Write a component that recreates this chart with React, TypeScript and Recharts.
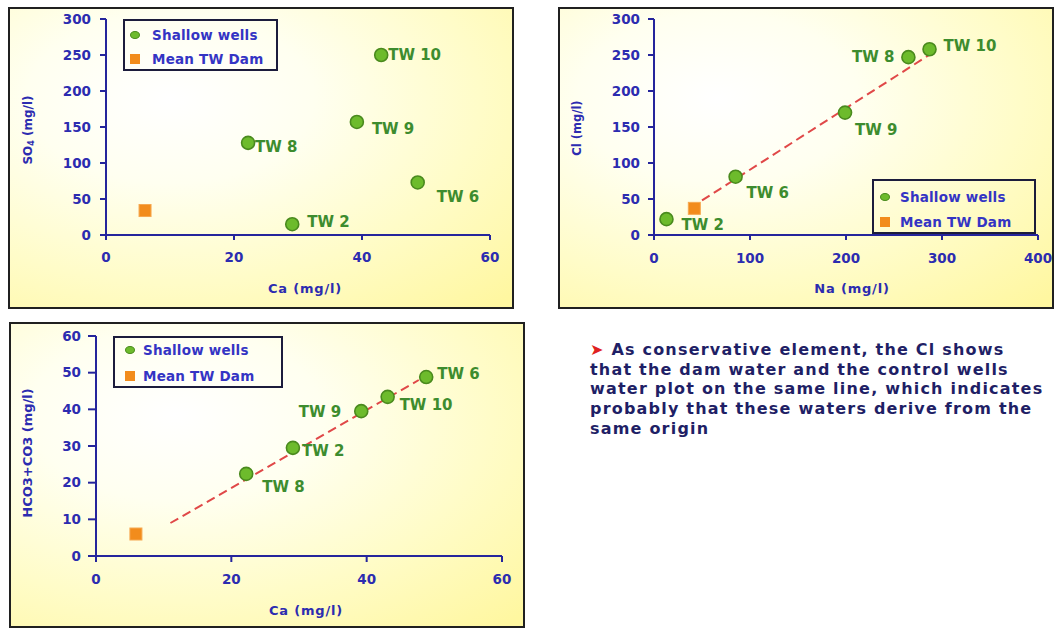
import React from 'react';
import { ScatterChart, Scatter, XAxis, YAxis, ReferenceLine, Legend, Label } from 'recharts';

// ---------- data ----------
const WELL_NAMES = ['TW 2', 'TW 8', 'TW 9', 'TW 10', 'TW 6'];
const SERIES_WELLS = 'Shallow wells';
const SERIES_DAM = 'Mean TW Dam';
const LEGEND_ORDER = [SERIES_WELLS, SERIES_DAM];

// Chart 1: Ca vs SO4
const CA_1 = [29.1, 22.2, 39.2, 43, 48.7];
const SO4_1 = [15, 128, 157, 250, 73];
const DAM_CA_1 = [6.1];
const DAM_SO4_1 = [34];
const TICKS_CA = [0, 20, 40, 60];
const TICKS_SO4 = [0, 50, 100, 150, 200, 250, 300];

// Chart 2: Na vs Cl
const NA_2 = [13, 265, 199, 287, 85];
const CL_2 = [22, 247, 170, 258, 81];
const DAM_NA_2 = [42];
const DAM_CL_2 = [37];
const TREND_NA_2 = [50, 290];
const TREND_CL_2 = [48, 253];
const TICKS_NA = [0, 100, 200, 300, 400];
const TICKS_CL = [0, 50, 100, 150, 200, 250, 300];

// Chart 3: Ca vs HCO3+CO3
const CA_3 = [29.1, 22.2, 39.2, 43.1, 48.8];
const HCO3_3 = [29.5, 22.4, 39.5, 43.4, 48.8];
const DAM_CA_3 = [5.9];
const DAM_HCO3_3 = [6];
const TREND_CA_3 = [11, 47.7];
const TREND_HCO3_3 = [9, 48];
const TICKS_HCO3 = [0, 10, 20, 30, 40, 50, 60];

const NOTE_LINES = [
  'As conservative element, the Cl shows',
  'that the dam water and the control wells',
  'water plot on the same line, which indicates',
  'probably that these waters derive from the',
  'same origin',
];

// label placement (dx, dy, anchor) per well, same order as WELL_NAMES
type Place = [number, number, 'start' | 'end'];
const PLACE_1: Place[] = [[15, -2, 'start'], [7, 4, 'start'], [15, 7, 'start'], [7, 0, 'start'], [19, 15, 'start']];
const PLACE_2: Place[] = [[15, 6, 'start'], [-14, 0, 'end'], [10, 17, 'start'], [14, -3, 'start'], [11, 16, 'start']];
const PLACE_3: Place[] = [[9, 3, 'start'], [16, 13, 'start'], [-20, 1, 'end'], [12, 8, 'start'], [11, -3, 'start']];

// ---------- styles ----------
const FONT = 'DejaVu Sans';
const AXIS_BLUE = '#25259c';
const TICK_BLUE = '#2c2cb0';
const LEGEND_BLUE = '#3434c4';
const LABEL_GREEN = '#3d8c2e';
const WELL_FILL = '#6dbb2c';
const WELL_STROKE = '#4a8a1e';
const DAM_FILL = '#f28c1c';
const TREND_RED = '#e04848';
const BG = 'radial-gradient(ellipse 95% 95% at 32% 30%, #ffffff 0%, #fffff0 30%, #fffcc8 65%, #fff7a0 100%)';

const build = (xs: number[], ys: number[], names?: string[]) =>
  xs.map((x, i) => ({ x, y: ys[i], name: names ? names[i] : '' }));

const wellShape = (place: Place[]) => (props: any) => {
  const { cx, cy, payload } = props;
  if (cx == null || cy == null) return <g />;
  const idx = WELL_NAMES.indexOf(payload?.name);
  const p = place[idx] || [10, 0, 'start'];
  return (
    <g>
      <circle cx={cx} cy={cy} r={6.5} fill={WELL_FILL} stroke={WELL_STROKE} strokeWidth={1.6} />
      <text
        x={cx + p[0]}
        y={cy + p[1]}
        textAnchor={p[2]}
        dominantBaseline="central"
        fontFamily={FONT}
        fontWeight="bold"
        fontSize={15}
        fill={LABEL_GREEN}
      >
        {payload?.name}
      </text>
    </g>
  );
};

const damShape = (props: any) => {
  const { cx, cy } = props;
  if (cx == null || cy == null) return <g />;
  return <rect x={cx - 6} y={cy - 6} width={12} height={12} fill={DAM_FILL} stroke="#f6a850" strokeWidth={1} />;
};

type LegendGeo = { x: number; y: number; w: number; h: number; ix: number; tx: number; r1: number; r2: number };

const makeLegend = (g: LegendGeo) => () => {
  return (
    <div
      style={{
        width: g.w,
        height: g.h,
        border: '2px solid #1c1c3c',
        boxSizing: 'border-box',
        position: 'relative',
        fontFamily: FONT,
        fontWeight: 'bold',
        fontSize: 13.5,
        color: LEGEND_BLUE,
      }}
    >
      {LEGEND_ORDER.map((name, i) => {
        const cy = i === 0 ? g.r1 : g.r2;
        const isDam = name === SERIES_DAM;
        return (
          <div key={name} style={{ position: 'absolute', left: 0, top: cy - 10, height: 20, width: '100%' }}>
            {isDam ? (
              <div style={{ position: 'absolute', left: g.ix - 5, top: 5, width: 10, height: 10, background: DAM_FILL }} />
            ) : (
              <div
                style={{
                  position: 'absolute',
                  left: g.ix - 5,
                  top: 6,
                  width: 10,
                  height: 8,
                  borderRadius: '50%',
                  background: WELL_FILL,
                  border: `1.5px solid ${WELL_STROKE}`,
                  boxSizing: 'border-box',
                }}
              />
            )}
            <div style={{ position: 'absolute', left: g.tx, top: 0, lineHeight: '20px', whiteSpace: 'nowrap', letterSpacing: 0.2 }}>
              {name}
            </div>
          </div>
        );
      })}
    </div>
  );
};

const yTitle = (dxFromLeft: number, dyCenter: number, size: number, children: React.ReactNode) => (props: any) => {
  const vb = props.viewBox || { x: 0, y: 0, width: 0, height: 0 };
  const cx = vb.x + dxFromLeft;
  const cy = vb.y + vb.height / 2 + dyCenter;
  return (
    <text
      x={cx}
      y={cy}
      transform={`rotate(-90 ${cx} ${cy})`}
      textAnchor="middle"
      dominantBaseline="central"
      fontFamily={FONT}
      fontWeight="bold"
      fontSize={size}
      fill={TICK_BLUE}
    >
      {children}
    </text>
  );
};

const xTitle = (dxCenter: number, dyFromTop: number, text: string) => (props: any) => {
  const vb = props.viewBox || { x: 0, y: 0, width: 0, height: 0 };
  return (
    <text
      x={vb.x + vb.width / 2 + dxCenter}
      y={vb.y + dyFromTop}
      textAnchor="middle"
      dominantBaseline="central"
      fontFamily={FONT}
      fontWeight="bold"
      fontSize={13}
      letterSpacing={0.8}
      fill={TICK_BLUE}
    >
      {text}
    </text>
  );
};

const tickStyle = { fill: TICK_BLUE, fontFamily: FONT, fontWeight: 'bold', fontSize: 13.5 } as any;

type PanelProps = {
  left: number;
  top: number;
  width: number;
  height: number;
  margin: { top: number; right: number; left: number; bottom: number };
  yWidth: number;
  xHeight: number;
  xDomain: [number, number];
  yDomain: [number, number];
  xTicks: number[];
  yTicks: number[];
  yTickSize: number;
  yTickMargin: number;
  xTickSize: number;
  xTickMargin: number;
  wells: { x: number; y: number; name: string }[];
  dam: { x: number; y: number; name: string }[];
  trend?: { x: number; y: number }[];
  place: Place[];
  legend: LegendGeo;
  yTitleNode: (p: any) => React.ReactNode;
  xTitleNode: (p: any) => React.ReactNode;
};

const Panel = (p: PanelProps) => (
  <div style={{ position: 'absolute', left: p.left, top: p.top, width: p.width, height: p.height }}>
    <div
      style={{
        position: 'absolute',
        left: 0,
        top: 0,
        width: p.width,
        height: p.height,
        border: '2px solid #202020',
        boxSizing: 'border-box',
        background: BG,
      }}
    />
    <div style={{ position: 'absolute', left: 0, top: 0 }}>
      <ScatterChart width={p.width} height={p.height} margin={p.margin}>
        <XAxis
          type="number"
          dataKey="x"
          domain={p.xDomain}
          ticks={p.xTicks}
          allowDataOverflow
          height={p.xHeight}
          stroke={AXIS_BLUE}
          strokeWidth={2}
          tickSize={p.xTickSize}
          tickMargin={p.xTickMargin}
          tick={tickStyle}
          tickLine={{ stroke: AXIS_BLUE, strokeWidth: 2 }}
          axisLine={{ stroke: AXIS_BLUE, strokeWidth: 2 }}
        >
          <Label content={p.xTitleNode as any} />
        </XAxis>
        <YAxis
          type="number"
          dataKey="y"
          domain={p.yDomain}
          ticks={p.yTicks}
          allowDataOverflow
          width={p.yWidth}
          stroke={AXIS_BLUE}
          strokeWidth={2}
          tickSize={p.yTickSize}
          tickMargin={p.yTickMargin}
          tick={tickStyle}
          tickLine={{ stroke: AXIS_BLUE, strokeWidth: 2 }}
          axisLine={{ stroke: AXIS_BLUE, strokeWidth: 2 }}
        >
          <Label content={p.yTitleNode as any} />
        </YAxis>
        {p.trend ? (
          <ReferenceLine
            segment={p.trend as any}
            stroke={TREND_RED}
            strokeWidth={2}
            strokeDasharray="9 5"
            ifOverflow="visible"
          />
        ) : null}
        <Scatter name={SERIES_WELLS} data={p.wells} fill={WELL_FILL} shape={wellShape(p.place)} isAnimationActive={false} />
        <Scatter name={SERIES_DAM} data={p.dam} fill={DAM_FILL} shape={damShape} legendType="square" isAnimationActive={false} />
        <Legend
          layout="vertical"
          align="center"
          verticalAlign="middle"
          content={makeLegend(p.legend) as any}
          wrapperStyle={{ left: p.legend.x, top: p.legend.y, width: p.legend.w, height: p.legend.h }}
        />
      </ScatterChart>
    </div>
  </div>
);

export default function App() {
  const wells1 = build(CA_1, SO4_1, WELL_NAMES);
  const dam1 = build(DAM_CA_1, DAM_SO4_1, [SERIES_DAM]);
  const wells2 = build(NA_2, CL_2, WELL_NAMES);
  const dam2 = build(DAM_NA_2, DAM_CL_2, [SERIES_DAM]);
  const trend2 = build(TREND_NA_2, TREND_CL_2);
  const wells3 = build(CA_3, HCO3_3, WELL_NAMES);
  const dam3 = build(DAM_CA_3, DAM_HCO3_3, [SERIES_DAM]);
  const trend3 = build(TREND_CA_3, TREND_HCO3_3);

  return (
    <div
      style={{
        position: 'absolute',
        left: 0,
        top: 0,
        width: 1059,
        height: 629,
        background: '#ffffff',
        overflow: 'hidden',
        fontFamily: FONT,
      }}
    >
      <Panel
        left={8}
        top={7}
        width={506}
        height={302}
        margin={{ top: 12, right: 24, left: 0, bottom: 0 }}
        yWidth={98}
        xHeight={74}
        xDomain={[0, 60]}
        yDomain={[0, 300]}
        xTicks={TICKS_CA}
        yTicks={TICKS_SO4}
        yTickSize={6}
        yTickMargin={9}
        xTickSize={5}
        xTickMargin={12}
        wells={wells1}
        dam={dam1}
        place={PLACE_1}
        legend={{ x: 115, y: 12, w: 155, h: 52, ix: 10, tx: 27, r1: 14, r2: 38 }}
        yTitleNode={yTitle(20, 3, 12, (
          <>
            <tspan>SO</tspan>
            <tspan dy={3} fontSize={8}>4</tspan>
            <tspan dy={-3}> (mg/l)</tspan>
          </>
        ))}
        xTitleNode={xTitle(7, 53, 'Ca (mg/l)')}
      />
      <Panel
        left={558}
        top={7}
        width={496}
        height={302}
        margin={{ top: 12, right: 16, left: 0, bottom: 0 }}
        yWidth={96}
        xHeight={74}
        xDomain={[0, 400]}
        yDomain={[0, 300]}
        xTicks={TICKS_NA}
        yTicks={TICKS_CL}
        yTickSize={6}
        yTickMargin={8}
        xTickSize={5}
        xTickMargin={13}
        wells={wells2}
        dam={dam2}
        trend={trend2}
        place={PLACE_2}
        legend={{ x: 314, y: 172, w: 164, h: 55, ix: 11, tx: 26, r1: 16, r2: 41 }}
        yTitleNode={yTitle(19, 1, 11.5, 'Cl (mg/l)')}
        xTitleNode={xTitle(6, 53, 'Na (mg/l)')}
      />
      <Panel
        left={9}
        top={322}
        width={516}
        height={306}
        margin={{ top: 14, right: 23, left: 0, bottom: 0 }}
        yWidth={87}
        xHeight={72}
        xDomain={[0, 60]}
        yDomain={[0, 60]}
        xTicks={TICKS_CA}
        yTicks={TICKS_HCO3}
        yTickSize={8}
        yTickMargin={7}
        xTickSize={6}
        xTickMargin={12}
        wells={wells3}
        dam={dam3}
        trend={trend3}
        place={PLACE_3}
        legend={{ x: 104, y: 14, w: 170, h: 52, ix: 15, tx: 28, r1: 12, r2: 38 }}
        yTitleNode={yTitle(18, 7, 13, 'HCO3+CO3 (mg/l)')}
        xTitleNode={xTitle(7, 54, 'Ca (mg/l)')}
      />
      <div
        style={{
          position: 'absolute',
          left: 590,
          top: 340,
          fontFamily: FONT,
          fontWeight: 'bold',
          fontSize: 16,
          letterSpacing: 1.2,
          lineHeight: '19.7px',
          color: '#1f1f66',
          whiteSpace: 'nowrap',
        }}
      >
        {NOTE_LINES.map((line, i) => (
          <div key={i}>
            {i === 0 ? <span style={{ color: '#e02020' }}>➤ </span> : null}
            {line}
          </div>
        ))}
      </div>
    </div>
  );
}
